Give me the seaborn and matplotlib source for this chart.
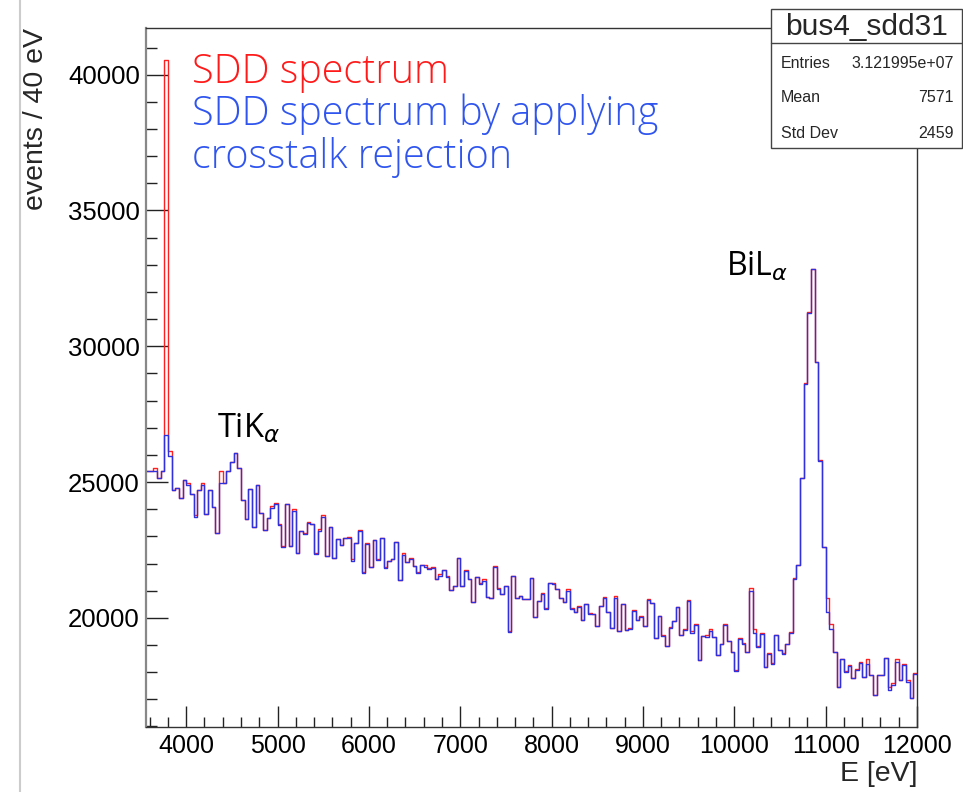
import numpy as np
import pandas as pd
import matplotlib
matplotlib.use("Agg")
import matplotlib.pyplot as plt
from matplotlib.lines import Line2D
from matplotlib.patches import Rectangle
from matplotlib.ticker import MultipleLocator
import seaborn as sns

# ---------------- data ----------------
bin_width = 40
e_min, e_max = 3560, 12000
bin_edges = [float(v) for v in np.arange(e_min, e_max + bin_width, bin_width)]

# blue: spectrum with crosstalk rejection
rejected_counts = [
    25390, 25390, 25420, 25140, 25390, 26740, 25970, 24710, 24770, 24430,
    25080, 24900, 24560, 23730, 24710, 24900, 23810, 24710, 24070, 23140,
    24960, 24960, 25420, 25750, 26060, 25510, 24340, 23630, 24730, 23360,
    24880, 23850, 23240, 23670, 24060, 24180, 23420, 22590, 24200, 22650,
    23950, 22400, 23200, 23080, 23480, 23460, 22350, 23210, 23730, 22290,
    23340, 22190, 22890, 22680, 22950, 22930, 22110, 22750, 23180, 21640,
    22720, 21860, 22870, 22130, 22930, 21820, 22090, 22150, 22800, 21390,
    22320, 22070, 22170, 21920, 21660, 21950, 21890, 21800, 21820, 21430,
    21550, 21760, 21490, 21030, 21180, 22190, 21170, 21730, 21430, 20570,
    21490, 21250, 21370, 20750, 20720, 21860, 21060, 20870, 21180, 19460,
    21550, 20740, 20820, 20690, 20690, 21460, 20020, 20630, 20870, 20310,
    21270, 21250, 21050, 20740, 20600, 21000, 20310, 20200, 20390, 19920,
    20500, 20140, 20140, 19700, 20450, 20720, 20230, 19610, 20740, 19510,
    20500, 19550, 19590, 20250, 19920, 20040, 19710, 20660, 20530, 19270,
    20070, 19330, 18970, 19610, 19900, 20410, 19370, 19550, 20620, 19450,
    19740, 18450, 19340, 19310, 19530, 19310, 18630, 19040, 19740, 19150,
    18750, 18040, 19220, 19020, 18750, 21000, 19430, 18910, 19400, 18200,
    18670, 18290, 19370, 18810, 18650, 19040, 19430, 21420, 21950, 25140,
    28610, 31220, 32850, 29420, 25790, 22600, 20200, 19580, 18750, 17460,
    18470, 18020, 18240, 17770, 18080, 18320, 17810, 18290, 17890, 17160,
    17890, 17890, 18510, 17340, 17520, 18380, 17710, 18260, 17650, 17060,
    17930,
]

# red: raw SDD spectrum
sdd_counts = [
    25390, 25390, 25510, 25140, 25390, 40530, 26130, 24710, 24770, 24430,
    25080, 24950, 24560, 23780, 24710, 24950, 23810, 24710, 24070, 23140,
    25390, 24960, 25420, 25750, 26060, 25510, 24340, 23630, 24730, 23360,
    24880, 23850, 23240, 23670, 24100, 24230, 23470, 22640, 24200, 22650,
    24000, 22400, 23200, 23120, 23530, 23460, 22400, 23260, 23770, 22290,
    23340, 22190, 22890, 22680, 22950, 22980, 22160, 22750, 23220, 21690,
    22760, 21860, 22870, 22180, 22930, 21870, 22090, 22150, 22800, 21390,
    22370, 22070, 22220, 21920, 21700, 21950, 21930, 21850, 21860, 21430,
    21600, 21760, 21540, 21030, 21180, 22190, 21170, 21770, 21430, 20570,
    21490, 21300, 21420, 20750, 20720, 21910, 21110, 20870, 21180, 19500,
    21550, 20740, 20820, 20690, 20690, 21460, 20020, 20630, 20920, 20360,
    21270, 21290, 21050, 20740, 20600, 21050, 20360, 20200, 20430, 19920,
    20500, 20190, 20140, 19700, 20450, 20770, 20230, 19610, 20790, 19510,
    20500, 19550, 19630, 20300, 19920, 20080, 19710, 20700, 20530, 19270,
    20070, 19370, 18970, 19650, 19900, 20410, 19370, 19590, 20660, 19500,
    19780, 18450, 19340, 19350, 19580, 19310, 18630, 19040, 19780, 19150,
    18750, 18080, 19260, 19060, 18750, 21110, 19590, 18950, 19440, 18200,
    18710, 18330, 19370, 18810, 18700, 19040, 19470, 21460, 21950, 25140,
    28640, 31260, 32850, 29420, 25830, 22600, 20720, 19770, 18750, 17460,
    18470, 18060, 18280, 17770, 18120, 18370, 17810, 18470, 17890, 17160,
    17890, 17890, 18510, 17460, 17610, 18470, 17710, 18300, 17710, 17060,
    17980,
]

y_ticks = [20000, 25000, 30000, 35000, 40000]
x_ticks = [4000, 5000, 6000, 7000, 8000, 9000, 10000, 11000, 12000]

stat_title = "bus4_sdd31"
stat_rows = [("Entries", "3.121995e+07"), ("Mean", "7571"), ("Std Dev", "2459")]

# ---------------- figure ----------------
W, H = 963, 792
sns.set_theme(style="ticks")
plt.rcParams["font.family"] = ["Liberation Sans", "DejaVu Sans"]

fig = plt.figure(figsize=(W / 100, H / 100), dpi=100)
fig.patch.set_facecolor("white")

def fx(px):
    return px / W

def fy(py):
    return 1 - py / H

ax_l, ax_r, ax_t, ax_b = 146, 917, 28, 727
ax = fig.add_axes([fx(ax_l), fy(ax_b), fx(ax_r - ax_l), (ax_b - ax_t) / H])
ax.set_facecolor("white")

centers = [lo + bin_width / 2 for lo in bin_edges[:-1]]
df = pd.DataFrame({"E": centers, "raw": sdd_counts, "rej": rejected_counts})

sns.histplot(data=df, x="E", weights="raw", bins=bin_edges, element="step",
             fill=False, color="#ff2020", linewidth=1.0, ax=ax)
sns.histplot(data=df, x="E", weights="rej", bins=bin_edges, element="step",
             fill=False, color="#3030dc", linewidth=1.0, ax=ax)

ax.set_xlim(e_min, e_max)
ax.set_ylim(15980, 41720)

ax.set_xticks(x_ticks)
ax.set_xticklabels([str(v) for v in x_ticks])
ax.set_yticks(y_ticks)
ax.set_yticklabels([str(v) for v in y_ticks])
ax.xaxis.set_minor_locator(MultipleLocator(200))
ax.yaxis.set_minor_locator(MultipleLocator(1000))

ax.tick_params(axis="both", which="both", direction="in", colors="#222222",
               labelcolor="black", width=1.0)
ax.tick_params(axis="y", which="major", length=16, pad=4.5, labelsize=18.5)
ax.tick_params(axis="y", which="minor", length=8)
ax.tick_params(axis="x", which="major", length=15, pad=5, labelsize=18)
ax.tick_params(axis="x", which="minor", length=7.5)
ax.tick_params(top=False, right=False, which="both")

for side in ["left", "right", "top", "bottom"]:
    ax.spines[side].set_visible(True)
    ax.spines[side].set_color("#333333")
    ax.spines[side].set_linewidth(1.0)
ax.spines["left"].set_color("#888888")
ax.spines["left"].set_linewidth(1.6)

ax.set_xlabel("E [eV]", fontsize=20.5, loc="right")
ax.xaxis.set_label_coords(1.0, -(761 - ax_b) / (ax_b - ax_t))
ax.set_ylabel("events / 40 eV", fontsize=20.5, loc="top")
ax.yaxis.set_label_coords(-(ax_l - 49) / (ax_r - ax_l), 1.0)

# legend-like text
leg_font = ["Open Sans", "DejaVu Sans"]
fig.text(fx(192), fy(83), "SDD spectrum", color="#ff1a1a", fontsize=28.5,
         family=leg_font, weight="light", ha="left", va="baseline")
fig.text(fx(192), fy(125), "SDD spectrum by applying", color="#2f55ee",
         fontsize=28.5, family=leg_font, weight="light", ha="left", va="baseline")
fig.text(fx(192), fy(168), "crosstalk rejection", color="#2f55ee",
         fontsize=28.5, family=leg_font, weight="light", ha="left", va="baseline")

# peak labels
peak_font = ["Open Sans", "DejaVu Sans"]
fig.text(fx(217), fy(437), r"TiK$_{\alpha}$", fontsize=23.5, family=peak_font,
         ha="left", va="baseline", color="black")
fig.text(fx(726), fy(276), r"BiL$_{\alpha}$", fontsize=23, family=peak_font,
         ha="left", va="baseline", color="black")

# stat box
bx0, bx1, by0, by_mid, by1 = 771, 962, 9, 43, 148
fig.add_artist(Rectangle((fx(bx0), fy(by1)), fx(bx1 - bx0), (by1 - by0) / H,
                         transform=fig.transFigure, facecolor="white",
                         edgecolor="#444444", linewidth=1.0, zorder=5))
fig.add_artist(Line2D([fx(bx0), fx(bx1)], [fy(by_mid), fy(by_mid)],
                      transform=fig.transFigure, color="#444444", lw=1.0, zorder=6))
fig.text(fx(867), fy(27), stat_title, fontsize=21.5, ha="center",
         va="center", zorder=7)
row_y = [63, 98, 133]
for (lab, val), ry in zip(stat_rows, row_y):
    fig.text(fx(781), fy(ry), lab, fontsize=11.5, ha="left", va="center", zorder=7)
    fig.text(fx(954), fy(ry), val, fontsize=11.5, ha="right", va="center", zorder=7)

# faint pad border on the far left
fig.add_artist(Line2D([fx(20), fx(20)], [0, 1], transform=fig.transFigure,
                      color="#cccccc", lw=1.5))

fig.savefig("out.png", dpi=100, facecolor="white")
